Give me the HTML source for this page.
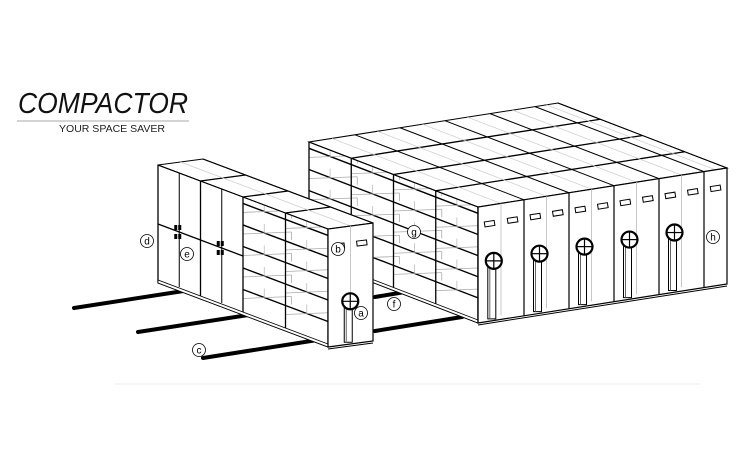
<!DOCTYPE html>
<html><head><meta charset="utf-8"><style>
html,body{margin:0;padding:0;background:#fff;}
svg{display:block}
text{font-family:"Liberation Sans",sans-serif;}
</style></head><body>
<svg id="s" width="750" height="464" viewBox="0 0 750 464" xmlns="http://www.w3.org/2000/svg">
<text x="18" y="113" font-size="29" font-style="italic" fill="#111" textLength="170" lengthAdjust="spacingAndGlyphs">COMPACTOR</text>
<line x1="17" y1="121" x2="189" y2="121" stroke="#aaa" stroke-width="1"/>
<text x="59" y="132" font-size="10.5" fill="#222" textLength="106" lengthAdjust="spacingAndGlyphs">YOUR SPACE SAVER</text>
<line x1="115" y1="384" x2="700" y2="384" stroke="#eee" stroke-width="1"/>
<g stroke="#000" stroke-width="4" stroke-linecap="round">
<line x1="74" y1="308" x2="190" y2="290"/>
<line x1="138" y1="332" x2="255" y2="314"/>
<line x1="203" y1="358" x2="330" y2="338"/>
<line x1="375" y1="297" x2="405" y2="292"/>
<line x1="375" y1="331" x2="462" y2="317"/>
</g>
<g id="g"></g>
</svg>
<script>
var g=document.getElementById('g'),NS='http://www.w3.org/2000/svg';
function el(t,a){var e=document.createElementNS(NS,t);for(var k in a)e.setAttribute(k,a[k]);g.appendChild(e);return e;}
function L(p,q,c,w){el('line',{x1:p[0],y1:p[1],x2:q[0],y2:q[1],stroke:c||'#000','stroke-width':w||1});}
function poly(ps,f,c,w){el('polygon',{points:ps.map(function(p){return p.join(',')}).join(' '),fill:f||'#fff',stroke:c||'#000','stroke-width':w||1});}
function mk(bx,by,wx,wy,dx,dy,H){return function(u,v,h){return [bx+wx*u+dx*v,by+wy*u+dy*v-h];};}
function circ(x,y,t){el('circle',{cx:x,cy:y,r:6.5,fill:'#fff',stroke:'#000','stroke-width':0.8});el('text',{x:x,y:y+3.5,'font-size':10,'text-anchor':'middle',fill:'#000'}).textContent=t;}
function wheel(x,y,bot){
 poly([[x-4,y],[x+4,y],[x+4,bot],[x-4,bot]],'#fff','#000',1);
 L([x-2,y+4],[x-2,bot],'#666',1);
 el('circle',{cx:x+2,cy:y,r:8,fill:'#fff',stroke:'#000','stroke-width':2.2});
 L([x-6,y],[x+10,y],'#000',1.2);L([x+2,y-8],[x+2,y+8],'#000',1.2);
}
function unit(P,H,us,nv,doorsFrom){
 // left side face
 poly([P(0,0,0),P(0,1,0),P(0,1,H),P(0,0,H)]);
 for(var i=0;i<nv;i++){
  var v0=i/nv,v1=(i+1)/nv;
  var door=doorsFrom!=null && i>=doorsFrom;
  if(door){
   var vm=(v0+v1)/2;
   L(P(0,vm,4),P(0,vm,H),'#000',1);
   L(P(0,v0,H/2),P(0,v1,H/2),'#000',1.3);
   var a=P(0,vm,H/2);
   el('rect',{x:a[0]-5,y:a[1]-7,width:3,height:5,fill:'#000'});el('rect',{x:a[0]-1,y:a[1]-7,width:3,height:5,fill:'#000'});
   el('rect',{x:a[0]-5,y:a[1]+2,width:3,height:5,fill:'#000'});el('rect',{x:a[0]-1,y:a[1]+2,width:3,height:5,fill:'#000'});
  } else {
   for(var s=1;s<=5;s++){
    var h=4+(H-4)*s/5.3;
    L(P(0,v0,h),P(0,v1,h),'#000',1.4);
    var q=P(0,v0,h),r=P(0,v1,h-9);
    L([q[0]+6,q[1]-9],r,'#aaa',0.8);
    L([q[0]+6,q[1]-9],[q[0]+6,q[1]-1],'#aaa',0.8);
    var m=P(0,(v0+v1)/2,h);L([m[0],m[1]-9],[m[0],m[1]-1],'#bbb',0.8);
   }
  }
  L(P(0,v0,0),P(0,v0,H),'#000',1.3);
 }
 L(P(0,1,0),P(0,1,H),'#000',1.3);
 // base strip
 poly([P(0,0,0),P(0,1,0),P(0,1,3),P(0,0,3)],'#fff','#000',0.8);
 // top face
 poly([P(0,0,H),P(1,0,H),P(1,1,H),P(0,1,H)]);
 for(var i=1;i<nv;i++)L(P(0,i/nv,H),P(1,i/nv,H),'#000',1.3);
 for(var j=0;j<us.length;j++){L(P(us[j],0,H),P(us[j],1,H),'#000',1);}
 for(var j=0;j<us.length-1;j++){var um=(us[j]+us[j+1])/2;L(P(um,0,H),P(um,1,H),'#ccc',0.7);}
 // front face
 poly([P(0,0,0),P(1,0,0),P(1,0,H),P(0,0,H)],'#fff','#000',1.2);
}
// large unit
var H1=116,P1=mk(478,323,249,-39,-169,-65);
var us1=[0,46/249,91/249,136/249,181/249,226/249,1];
unit(P1,H1,us1,4,null);
for(var j=0;j<us1.length-1;j++){
 var u0=us1[j],u1=us1[j+1],um=(u0+u1)/2;
 L(P1(u0,0,0),P1(u0,0,H1),'#000',1.2);
 if(j<5){
  L(P1(um,0,4),P1(um,0,H1),'#bbb',0.8);
  [0.25,0.75].forEach(function(f){var p=P1(u0+(u1-u0)*f,0,H1-18);el('rect',{x:p[0]-5,y:p[1]-2,width:10,height:5,fill:'#fff',stroke:'#000','stroke-width':1,transform:'rotate(-9 '+p[0]+' '+p[1]+')'});});
  var w=P1(u0+(u1-u0)*0.3,0,H1-56),b=P1(u0+(u1-u0)*0.3,0,2);
  wheel(w[0],w[1],b[1]);
 } else {
  var p=P1(um,0,H1-18);el('rect',{x:p[0]-5,y:p[1]-2,width:10,height:5,fill:'#fff',stroke:'#000','stroke-width':1,transform:'rotate(-9 '+p[0]+' '+p[1]+')'});
 }
}
L(P1(0,0,-2),P1(1,0,-2),'#000',1);
// small unit
var H2=118,P2=mk(328,347,45,-6,-170,-64);
unit(P2,H2,[0,1],4,2);
L(P2(0.5,0,4),P2(0.5,0,H2),'#bbb',0.8);
[0.25,0.75].forEach(function(f){var p=P2(f,0,H2-18);el('rect',{x:p[0]-5,y:p[1]-2,width:10,height:5,fill:'#fff',stroke:'#000','stroke-width':1,transform:'rotate(-7 '+p[0]+' '+p[1]+')'});});
var w=P2(0.45,0,H2-75),b=P2(0.45,0,2);wheel(w[0],w[1],b[1]);
L(P2(0,0,-2),P2(1,0,-2),'#000',1);
circ(147,241,'d');circ(187,254,'e');circ(338,249,'b');circ(361,313,'a');circ(199,350,'c');circ(394,304,'f');circ(414,232,'g');circ(713,237,'h');
</script>
</body></html>
